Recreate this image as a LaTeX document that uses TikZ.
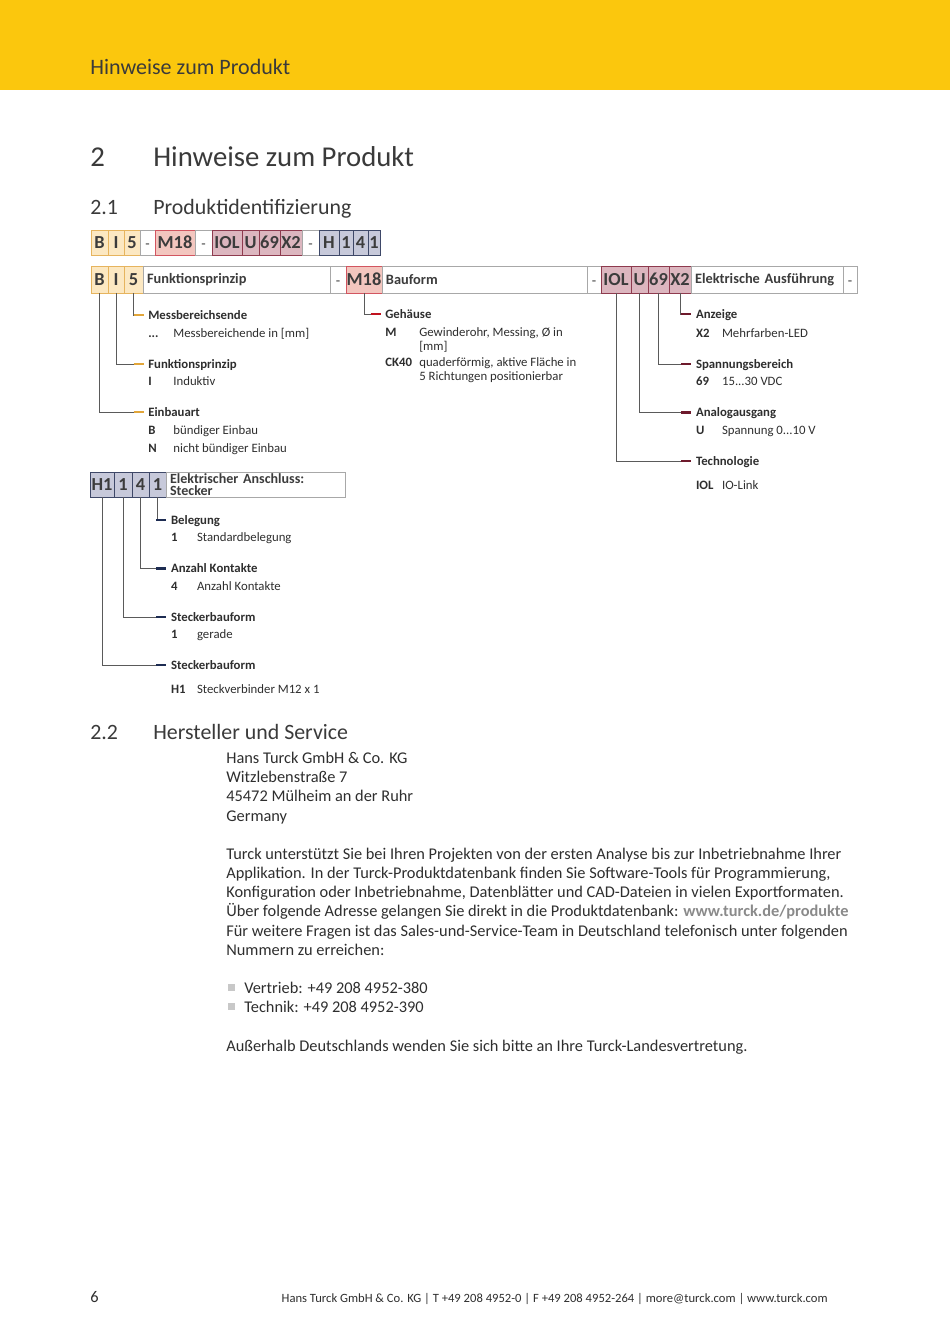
\documentclass[tikz,border=0pt]{standalone}
\usepackage{fontspec}
\setmainfont{Carlito}
\usepackage{xcolor}
\usepackage{tikz}
\usetikzlibrary{positioning}

\definecolor{turckyellow}{HTML}{FBC70D}
\definecolor{textdark}{HTML}{2E2E2E}
\definecolor{headgray}{HTML}{3A3A3A}
\definecolor{codegray}{HTML}{3C3C3C}
\definecolor{linkgray}{HTML}{8A8A8A}
\definecolor{boxgray}{HTML}{A8A8A8}
\definecolor{leadgray}{HTML}{5A5A5A}
\definecolor{bulletgray}{HTML}{C8C8C8}
\definecolor{yelfill}{HTML}{FCE8C2}
\definecolor{yeldraw}{HTML}{E6B45E}
\definecolor{yeltick}{HTML}{E2A63A}
\definecolor{rosefill}{HTML}{F3C6BF}
\definecolor{rosedraw}{HTML}{D25560}
\definecolor{rosetick}{HTML}{C1121F}
\definecolor{winefill}{HTML}{DCB6BF}
\definecolor{winedraw}{HTML}{8E3A4E}
\definecolor{winetick}{HTML}{6E1A2C}
\definecolor{navyfill}{HTML}{C7C9DA}
\definecolor{navydraw}{HTML}{3E4868}
\definecolor{navytick}{HTML}{1D2C52}

\newcommand{\pxu}{0.6263pt}
\newcommand{\kv}[3]{\makebox[#1][l]{\bfseries #2}#3}

\begin{document}
\begin{tikzpicture}[
    x=0.6263pt, y=-0.6263pt,
    cell/.style={
        rectangle,
        draw,
        inner sep=0pt,
        outer sep=0pt,
        minimum height=25*\pxu,
        font=\fontsize{11.5}{11.5}\selectfont\bfseries,
        text=codegray
    },
    code/.style={cell, text height=7.6pt, text depth=0pt},
    tall/.style={minimum height=27*\pxu},
    yelcell/.style={code, fill=yelfill, draw=yeldraw},
    rosecell/.style={code, fill=rosefill, draw=rosedraw},
    winecell/.style={code, fill=winefill, draw=winedraw},
    navycell/.style={code, fill=navyfill, draw=navydraw},
    dashcell/.style={code, fill=white, draw=boxgray, font=\fontsize{9}{9}\selectfont},
    txtcell/.style={
        cell,
        fill=white,
        draw=boxgray,
        align=left,
        inner xsep=4*\pxu,
        font=\fontsize{9}{9}\selectfont\bfseries
    },
    lbl/.style={
        inner sep=0pt,
        anchor=west,
        text=textdark,
        text height=1.4ex,
        text depth=0.3ex,
        font=\fontsize{8}{9}\selectfont
    },
    ttl/.style={lbl, font=\fontsize{8}{9}\selectfont\bfseries},
    body/.style={lbl, yshift=-1.3pt, font=\fontsize{10.25}{12}\selectfont},
    head/.style={lbl, text=headgray},
    lead/.style={draw=leadgray, line width=0.6pt},
    tick/.style={line width=1.8pt},
    bullet/.style={rectangle, fill=bulletgray, inner sep=0pt, minimum size=7*\pxu}
]
\useasboundingbox (0,0) rectangle (950,1343);

% page head
\fill[turckyellow] (0,0) rectangle (950,90);
\node[head, yshift=-2pt, font=\fontsize{13.8}{14}\selectfont] (band) at (90,67) {Hinweise zum Produkt};
\node[head, yshift=-3.3pt, font=\fontsize{18}{20}\selectfont] (chnum) at (90,157) {2};
\node[head, yshift=-3.3pt, font=\fontsize{18}{20}\selectfont] (chtitle) at (153,157) {Hinweise zum Produkt};
\node[head, yshift=-2pt, font=\fontsize{13.7}{15}\selectfont] (secnum) at (90,207) {2.1};
\node[head, yshift=-2pt, font=\fontsize{13.7}{15}\selectfont] (sectitle) at (153,207) {Produktidentifizierung};

% type code
\node[yelcell, minimum width=17*\pxu, anchor=north west] (aB) at (91,230) {B};
\node[yelcell, minimum width=16*\pxu, right=0pt of aB] (aI) {I};
\node[yelcell, minimum width=16*\pxu, right=0pt of aI] (a5) {5};
\node[dashcell, minimum width=15*\pxu, right=0pt of a5] (ad1) {-};
\node[rosecell, minimum width=40*\pxu, right=0pt of ad1] (aM) {M18};
\node[dashcell, minimum width=17*\pxu, right=0pt of aM] (ad2) {-};
\node[winecell, minimum width=30*\pxu, right=0pt of ad2] (aIOL) {IOL};
\node[winecell, minimum width=17*\pxu, right=0pt of aIOL] (aU) {U};
\node[winecell, minimum width=21*\pxu, right=0pt of aU] (a69) {69};
\node[winecell, minimum width=22*\pxu, right=0pt of a69] (aX2) {X2};
\node[dashcell, minimum width=17*\pxu, right=0pt of aX2] (ad3) {-};
\node[navycell, minimum width=20*\pxu, right=0pt of ad3] (aH) {H};
\node[navycell, minimum width=14*\pxu, right=0pt of aH] (a1) {1};
\node[navycell, minimum width=15*\pxu, right=0pt of a1] (a4) {4};
\node[navycell, minimum width=12*\pxu, right=0pt of a4] (a1b) {1};

% code explained
\node[yelcell, tall, minimum width=17*\pxu, anchor=north west] (fB) at (91,266) {B};
\node[yelcell, tall, minimum width=16*\pxu, right=0pt of fB] (fI) {I};
\node[yelcell, tall, minimum width=19*\pxu, right=0pt of fI] (f5) {5};
\node[txtcell, tall, text width=112.1pt, right=0pt of f5] (fTxt) {Funktionsprinzip};
\node[dashcell, tall, minimum width=16*\pxu, right=0pt of fTxt] (fd1) {-};
\node[rosecell, tall, minimum width=36*\pxu, right=0pt of fd1] (fM) {M18};
\node[txtcell, tall, text width=123.4pt, right=0pt of fM] (fBau) {Bauform};
\node[dashcell, tall, minimum width=14*\pxu, right=0pt of fBau] (fd2) {-};
\node[winecell, tall, minimum width=30*\pxu, right=0pt of fd2] (fIOL) {IOL};
\node[winecell, tall, minimum width=17*\pxu, right=0pt of fIOL] (fU) {U};
\node[winecell, tall, minimum width=21*\pxu, right=0pt of fU] (f69) {69};
\node[winecell, tall, minimum width=22*\pxu, right=0pt of f69] (fX2) {X2};
\node[txtcell, tall, text width=90.2pt, right=0pt of fX2] (fElek) {Elektrische Ausführung};
\node[dashcell, tall, minimum width=14*\pxu, right=0pt of fElek] (fd3) {-};

% Funktionsprinzip
\node[ttl] (tMess) at (148,315) {Messbereichsende};
\node[lbl] (vMess) at (148,333) {\kv{15.7pt}{...}{Messbereichende in [mm]}};
\node[ttl] (tFkt) at (148,364) {Funktionsprinzip};
\node[lbl] (vFkt) at (148,381) {\kv{15.7pt}{I}{Induktiv}};
\node[ttl] (tEinb) at (148,412) {Einbauart};
\node[lbl] (vEinbB) at (148,430) {\kv{15.7pt}{B}{bündiger Einbau}};
\node[lbl] (vEinbN) at (148,448) {\kv{15.7pt}{N}{nicht bündiger Einbau}};

\draw[lead] (f5.south) |- ([xshift=-9pt]tMess.west);
\draw[lead] (fI.south) |- ([xshift=-9pt]tFkt.west);
\draw[lead] (fB.south) |- ([xshift=-9pt]tEinb.west);
\draw[tick, yeltick] ([xshift=-9pt]tMess.west) -- ([xshift=-2.8pt]tMess.west);
\draw[tick, yeltick] ([xshift=-9pt]tFkt.west) -- ([xshift=-2.8pt]tFkt.west);
\draw[tick, yeltick] ([xshift=-9pt]tEinb.west) -- ([xshift=-2.8pt]tEinb.west);

% Bauform
\node[ttl] (tGeh) at (385,314) {Gehäuse};
\node[lbl] (vGehM) at (385,332) {\kv{21.3pt}{M}{Gewinderohr, Messing, Ø in}};
\node[lbl] (vGehM2) at (419,346) {[mm]};
\node[lbl] (vGehC) at (385,362) {\kv{21.3pt}{CK40}{quaderförmig, aktive Fläche in}};
\node[lbl] (vGehC2) at (419,376) {5 Richtungen positionierbar};

\draw[lead] (fM.south) |- ([xshift=-9pt]tGeh.west);
\draw[tick, rosetick] ([xshift=-9pt]tGeh.west) -- ([xshift=-2.8pt]tGeh.west);

% Elektrische Ausfuehrung
\node[ttl] (tAnz) at (695.7,314) {Anzeige};
\node[lbl] (vAnz) at (695.7,333) {\kv{16.3pt}{X2}{Mehrfarben-LED}};
\node[ttl] (tSpg) at (695.7,364) {Spannungsbereich};
\node[lbl] (vSpg) at (695.7,381) {\kv{16.3pt}{69}{15...30 VDC}};
\node[ttl] (tAna) at (695.7,412.5) {Analogausgang};
\node[lbl] (vAna) at (695.7,430) {\kv{16.3pt}{U}{Spannung 0...10 V}};
\node[ttl] (tTec) at (695.7,461) {Technologie};
\node[lbl] (vTec) at (695.7,485) {\kv{16.3pt}{IOL}{IO-Link}};

\draw[lead] (fX2.south) |- ([xshift=-9pt]tAnz.west);
\draw[lead] (f69.south) |- ([xshift=-9pt]tSpg.west);
\draw[lead] (fU.south) |- ([xshift=-9pt]tAna.west);
\draw[lead] (fIOL.south) |- ([xshift=-9pt]tTec.west);
\draw[tick, winetick] ([xshift=-9pt]tAnz.west) -- ([xshift=-2.8pt]tAnz.west);
\draw[tick, winetick] ([xshift=-9pt]tSpg.west) -- ([xshift=-2.8pt]tSpg.west);
\draw[tick, winetick] ([xshift=-9pt]tAna.west) -- ([xshift=-2.8pt]tAna.west);
\draw[tick, winetick] ([xshift=-9pt]tTec.west) -- ([xshift=-2.8pt]tTec.west);

% Stecker
\node[navycell, minimum width=24*\pxu, anchor=north west] (sH1) at (90,472) {H1};
\node[navycell, minimum width=18*\pxu, right=0pt of sH1] (s1) {1};
\node[navycell, minimum width=17*\pxu, right=0pt of s1] (s4) {4};
\node[navycell, minimum width=17*\pxu, right=0pt of s4] (s1b) {1};
\node[txtcell, text width=107.1pt, font=\fontsize{8.8}{7.5}\selectfont\bfseries, right=0pt of s1b] (sTxt) {Elektrischer Anschluss:\\Stecker};

\node[ttl] (tBel) at (170.7,520) {Belegung};
\node[lbl] (vBel) at (170.7,537) {\kv{16.3pt}{1}{Standardbelegung}};
\node[ttl] (tKon) at (170.7,568.5) {Anzahl Kontakte};
\node[lbl] (vKon) at (170.7,586) {\kv{16.3pt}{4}{Anzahl Kontakte}};
\node[ttl] (tStb) at (170.7,617) {Steckerbauform};
\node[lbl] (vStb) at (170.7,634) {\kv{16.3pt}{1}{gerade}};
\node[ttl] (tStv) at (170.7,665) {Steckerbauform};
\node[lbl] (vStv) at (170.7,689) {\kv{16.3pt}{H1}{Steckverbinder M12 x 1}};

\draw[lead] (s1b.south) |- ([xshift=-9pt]tBel.west);
\draw[lead] (s4.south) |- ([xshift=-9pt]tKon.west);
\draw[lead] (s1.south) |- ([xshift=-9pt]tStb.west);
\draw[lead] (sH1.south) |- ([xshift=-9pt]tStv.west);
\draw[tick, navytick] ([xshift=-9pt]tBel.west) -- ([xshift=-2.8pt]tBel.west);
\draw[tick, navytick] ([xshift=-9pt]tKon.west) -- ([xshift=-2.8pt]tKon.west);
\draw[tick, navytick] ([xshift=-9pt]tStb.west) -- ([xshift=-2.8pt]tStb.west);
\draw[tick, navytick] ([xshift=-9pt]tStv.west) -- ([xshift=-2.8pt]tStv.west);

% 2.2
\node[head, yshift=-2pt, font=\fontsize{13.7}{15}\selectfont] (sec2num) at (90,732) {2.2};
\node[head, yshift=-2pt, font=\fontsize{13.7}{15}\selectfont] (sec2title) at (153,732) {Hersteller und Service};
\node[body] (adr1) at (226,757) {Hans Turck GmbH \& Co. KG};
\node[body] (adr2) at (226,776) {Witzlebenstraße 7};
\node[body] (adr3) at (226,795) {45472 Mülheim an der Ruhr};
\node[body] (adr4) at (226,815) {Germany};

\node[body] (p1) at (226,853) {Turck unterstützt Sie bei Ihren Projekten von der ersten Analyse bis zur Inbetriebnahme Ihrer};
\node[body] (p2) at (226,872) {Applikation. In der Turck-Produktdatenbank finden Sie Software-Tools für Programmierung,};
\node[body] (p3) at (226,891) {Konfiguration oder Inbetriebnahme, Datenblätter und CAD-Dateien in vielen Exportformaten.};
\node[body] (p4) at (226,910) {Über folgende Adresse gelangen Sie direkt in die Produktdatenbank: \textcolor{linkgray}{\bfseries www.turck.de/produkte}};
\node[body] (p5) at (226,930) {Für weitere Fragen ist das Sales-und-Service-Team in Deutschland telefonisch unter folgenden};
\node[body] (p6) at (226,949) {Nummern zu erreichen:};

\node[bullet] (b1) at (231.5,987) {};
\node[body] (l1) at (244,987) {Vertrieb: +49 208 4952-380};
\node[bullet] (b2) at (231.5,1006) {};
\node[body] (l2) at (244,1006) {Technik: +49 208 4952-390};
\node[body] (p7) at (226,1045) {Außerhalb Deutschlands wenden Sie sich bitte an Ihre Turck-Landesvertretung.};

% foot
\node[body] (pgno) at (90,1296) {6};
\node[lbl, anchor=east, font=\fontsize{7.9}{9}\selectfont] (foot) at (828,1298) {Hans Turck GmbH \& Co. KG | T +49 208 4952-0 | F +49 208 4952-264 | more@turck.com | www.turck.com};

\end{tikzpicture}
\end{document}
